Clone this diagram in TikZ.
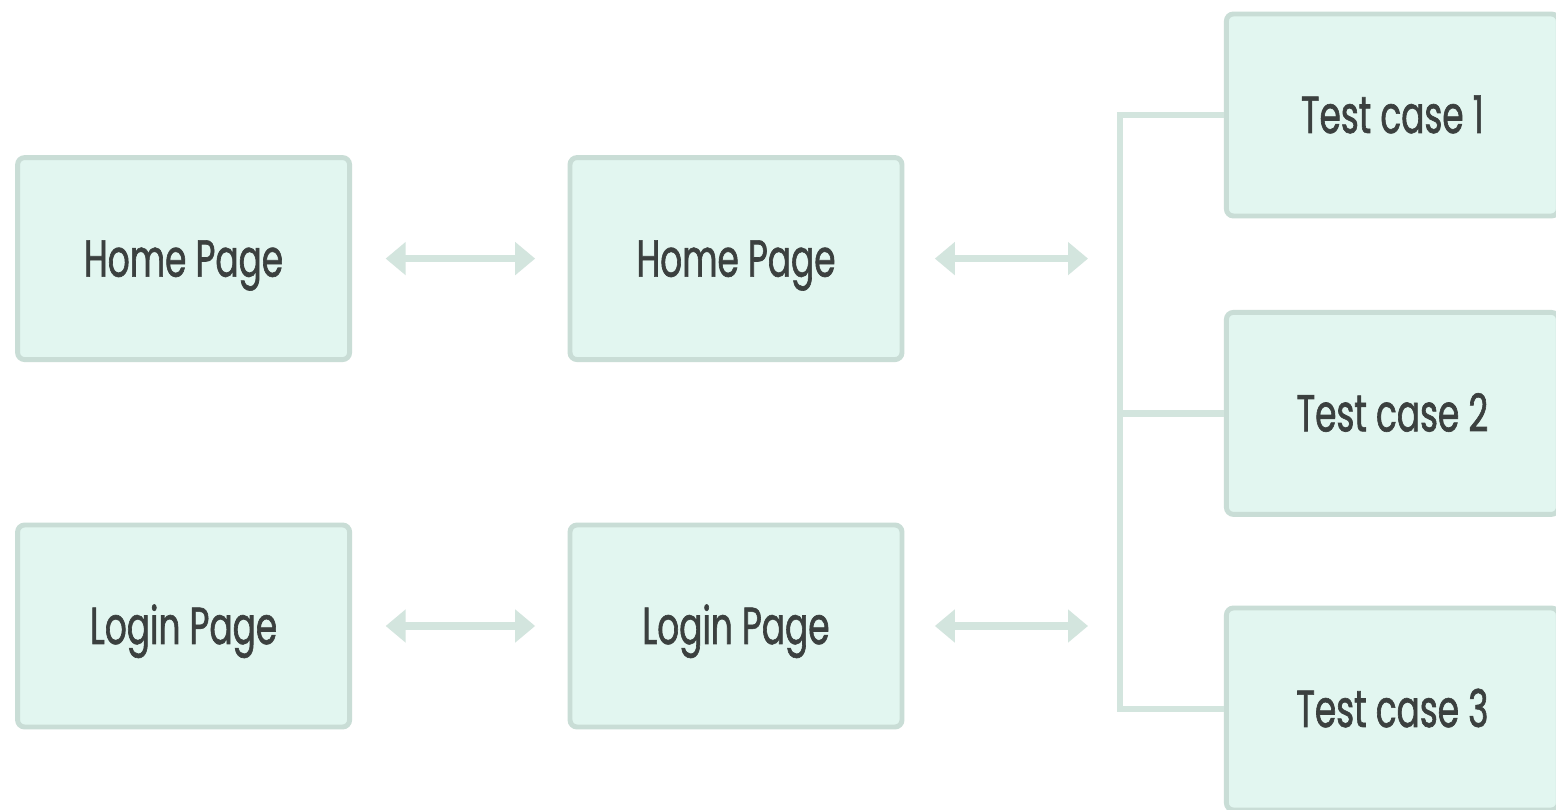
\documentclass[tikz,border=0pt]{standalone}
\usepackage{fontspec}
\setmainfont{Poppins}[FakeStretch=0.66, FakeBold=1.2]
\usepackage{xcolor}
\usetikzlibrary{positioning, arrows.meta}

\definecolor{pagefill}{HTML}{E2F6F0}
\definecolor{pageline}{HTML}{C9DDD6}
\definecolor{linkline}{HTML}{D3E5DE}
\definecolor{labeltext}{HTML}{3B403F}

\tikzset{
  page/.style={draw=pageline, line width=3.5pt, fill=pagefill, rounded corners=5pt,
    minimum width=8.3cm, minimum height=5.05cm, text=labeltext,
    text height=33pt, text depth=7.4pt,
    font=\fontsize{37}{44}\selectfont},
  link/.style={draw=linkline, line width=5pt,
    {Triangle[length=0.5cm, width=0.8cm]}-{Triangle[length=0.5cm, width=0.8cm]}},
  branch/.style={draw=linkline, line width=4.5pt}
}

\begin{document}
\begin{tikzpicture}
\fill[white] (0, 0) rectangle (38.9, 20.225);
\useasboundingbox (0, 0) rectangle (38.9, 20.225);

\node[page] (home1) at (4.59, 13.76) {Home Page};
\node[page] (login1) at (4.59, 4.575) {Login Page};
\node[page] (home2) at (18.4, 13.76) {Home Page};
\node[page] (login2) at (18.4, 4.575) {Login Page};

\node[page] (case1) at (34.81, 17.35) {Test case 1};
\node[page] (case2) at (34.81, 9.89) {Test case 2};
\node[page] (case3) at (34.81, 2.5) {Test case 3};

\coordinate (spine) at (28.0, 0);
\coordinate (homeend) at (27.2, 13.76);
\coordinate (loginend) at (27.2, 4.575);

\draw[link, shorten <=0.84cm, shorten >=0.81cm] (home1) -- (home2);
\draw[link, shorten <=0.84cm, shorten >=0.81cm] (login1) -- (login2);
\draw[link, shorten <=0.76cm] (home2) -- (homeend);
\draw[link, shorten <=0.76cm] (login2) -- (loginend);

\draw[branch] (case1.west) -- (case1.west -| spine) -- (case3.west -| spine) -- (case3.west);
\draw[branch] (case2.west) -- (case2.west -| spine);

\end{tikzpicture}
\end{document}
